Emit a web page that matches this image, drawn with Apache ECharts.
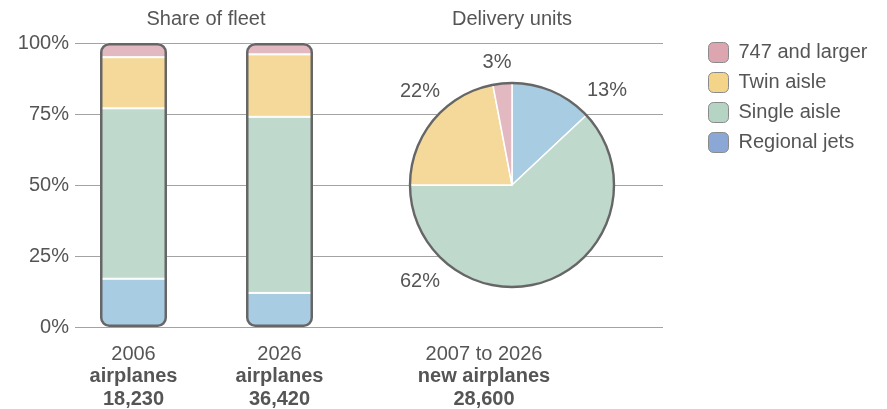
<!DOCTYPE html>
<html>
<head>
<meta charset="utf-8">
<script src="https://cdn.jsdelivr.net/npm/echarts@6/dist/echarts.min.js"></script>
<style>
  html, body { margin: 0; padding: 0; background: #fff; }
  #chart { width: 887px; height: 409px; }
</style>
</head>
<body>
<div id="chart"></div>
<script>
// Fleet composition (percent of fleet), stacked bottom to top
const fleetYears = ['2006', '2026'];
const fleetTotals = [18230, 36420];
const regionalJets = [17, 12];
const singleAisle = [60, 62];
const twinAisle = [18, 22];
const largeJets = [5, 4];

// Deliveries 2007 to 2026 (percent of units)
const deliveryPeriod = '2007 to 2026';
const deliveryTotal = 28600;
const deliveryNames = ['Regional jets', 'Single aisle', 'Twin aisle', '747 and larger'];
const deliveryShares = [13, 62, 22, 3];

const yTicks = [0, 25, 50, 75, 100];

const colors = {
  'Regional jets': '#a8cde3',
  'Single aisle': '#bfd9cc',
  'Twin aisle': '#f4d99a',
  '747 and larger': '#e3b9c1'
};
const legendColors = {
  '747 and larger': '#dda5b0',
  'Twin aisle': '#f3d488',
  'Single aisle': '#b6d4c4',
  'Regional jets': '#8aa7d5'
};

const FONT = '"Liberation Sans", Arial, Helvetica, sans-serif';
const TXT = '#555';
const FS = 20;
const LH = 22.5;

// thousands separator
const fmt = n => String(n).replace(/\B(?=(\d{3})+(?!\d))/g, ',');
const stackTotals = fleetYears.map((_, i) =>
  regionalJets[i] + singleAisle[i] + twinAisle[i] + largeJets[i]);

const pieCenter = [512, 185];
const pieR = 102;
// label anchors around the pie, relative to its centre
const pieLabelOffsets = [[95, -95], [-92, 96], [-92, -94], [-15, -123]];

const chart = echarts.init(document.getElementById('chart'), null, { renderer: 'canvas' });

const boldRich = { b: { fontSize: FS, fontWeight: 'bold', color: TXT, fontFamily: FONT, lineHeight: LH } };

function stackSeries(name, data, radius) {
  return {
    name: name,
    type: 'bar',
    stack: 'fleet',
    xAxisIndex: 1,
    yAxisIndex: 1,
    barWidth: 67,
    barGap: '-100%',
    data: data,
    itemStyle: {
      color: colors[name],
      borderColor: '#fff',
      borderWidth: 1,
      borderRadius: radius
    },
    emphasis: { disabled: true },
    z: 3
  };
}

const option = {
  animation: false,
  textStyle: { fontFamily: FONT },
  title: [
    { text: 'Share of fleet', left: 206, top: 9, padding: 0, textAlign: 'center',
      textStyle: { fontSize: FS, fontWeight: 'normal', color: TXT, fontFamily: FONT } },
    { text: 'Delivery units', left: 512, top: 9, padding: 0, textAlign: 'center',
      textStyle: { fontSize: FS, fontWeight: 'normal', color: TXT, fontFamily: FONT } },
    { text: deliveryPeriod + '\n{b|new airplanes}\n{b|' + fmt(deliveryTotal) + '}',
      left: 484, top: 343, padding: 0, textAlign: 'center',
      textStyle: {
        fontSize: FS, fontWeight: 'normal', color: TXT, fontFamily: FONT, lineHeight: LH,
        rich: boldRich
      } }
  ],
  legend: {
    orient: 'vertical',
    left: 708,
    top: 42,
    padding: 0,
    itemWidth: 20,
    itemHeight: 20,
    itemGap: 9,
    icon: 'roundRect',
    selectedMode: false,
    textStyle: { fontSize: FS, color: TXT, fontFamily: FONT, lineHeight: 20, padding: [0, 0, 0, 5] },
    itemStyle: { borderColor: '#8a8a8a', borderWidth: 1 },
    data: ['747 and larger', 'Twin aisle', 'Single aisle', 'Regional jets'].map(n => ({
      name: n,
      itemStyle: { color: legendColors[n], borderColor: '#8a8a8a', borderWidth: 1 }
    }))
  },
  grid: [
    { left: 75, right: 224, top: 43, bottom: 82, outerBoundsMode: 'none', containLabel: false },
    { left: 60.5, width: 292, top: 43, bottom: 82, outerBoundsMode: 'none', containLabel: false }
  ],
  xAxis: [
    { gridIndex: 0, type: 'value', show: false, min: 0, max: 1 },
    {
      gridIndex: 1, type: 'category', data: fleetYears,
      axisLine: { show: false }, axisTick: { show: false },
      axisLabel: {
        margin: 16,
        fontSize: FS, color: TXT, fontFamily: FONT, lineHeight: LH,
        formatter: (v, i) => v + '\n{b|airplanes}\n{b|' + fmt(fleetTotals[i]) + '}',
        rich: boldRich
      }
    }
  ],
  yAxis: [
    {
      gridIndex: 0, type: 'value', min: yTicks[0], max: yTicks[yTicks.length - 1], interval: 25,
      axisLine: { show: false }, axisTick: { show: false },
      axisLabel: { formatter: '{value}%', fontSize: FS, color: TXT, fontFamily: FONT, margin: 6 },
      splitLine: { lineStyle: { color: '#a3a3a3', width: 1.2 } }
    },
    { gridIndex: 1, type: 'value', min: 0, max: 100, show: false }
  ],
  series: [
    stackSeries('Regional jets', regionalJets, [0, 0, 8, 8]),
    stackSeries('Single aisle', singleAisle, 0),
    stackSeries('Twin aisle', twinAisle, 0),
    stackSeries('747 and larger', largeJets, [8, 8, 0, 0]),
    {
      name: 'outline',
      type: 'bar',
      xAxisIndex: 1,
      yAxisIndex: 1,
      barWidth: 67,
      barGap: '-100%',
      data: stackTotals,
      silent: true,
      itemStyle: { color: 'rgba(0,0,0,0)', borderColor: '#666', borderWidth: 2.5, borderRadius: 8 },
      z: 4
    },
    {
      name: 'Deliveries',
      type: 'pie',
      center: pieCenter,
      radius: pieR,
      startAngle: 90,
      clockwise: true,
      silent: true,
      data: deliveryNames.map((n, i) => ({
        name: n, value: deliveryShares[i], itemStyle: { color: colors[n] }
      })),
      itemStyle: { borderColor: '#fff', borderWidth: 1.5 },
      label: {
        show: true, position: 'outside', formatter: '{c}%',
        fontSize: FS, color: TXT, fontFamily: FONT
      },
      labelLine: { show: false },
      labelLayout: p => {
        const o = pieLabelOffsets[p.dataIndex];
        return { x: pieCenter[0] + o[0], y: pieCenter[1] + o[1], align: 'center', verticalAlign: 'middle' };
      },
      z: 3
    },
    {
      name: 'pieRim',
      type: 'pie',
      center: pieCenter,
      radius: [pieR - 1.2, pieR + 1.2],
      silent: true,
      label: { show: false },
      labelLine: { show: false },
      data: [{ value: 1, name: 'rim', itemStyle: { color: '#666' } }],
      z: 4
    }
  ]
};

chart.setOption(option);
</script>
</body>
</html>
